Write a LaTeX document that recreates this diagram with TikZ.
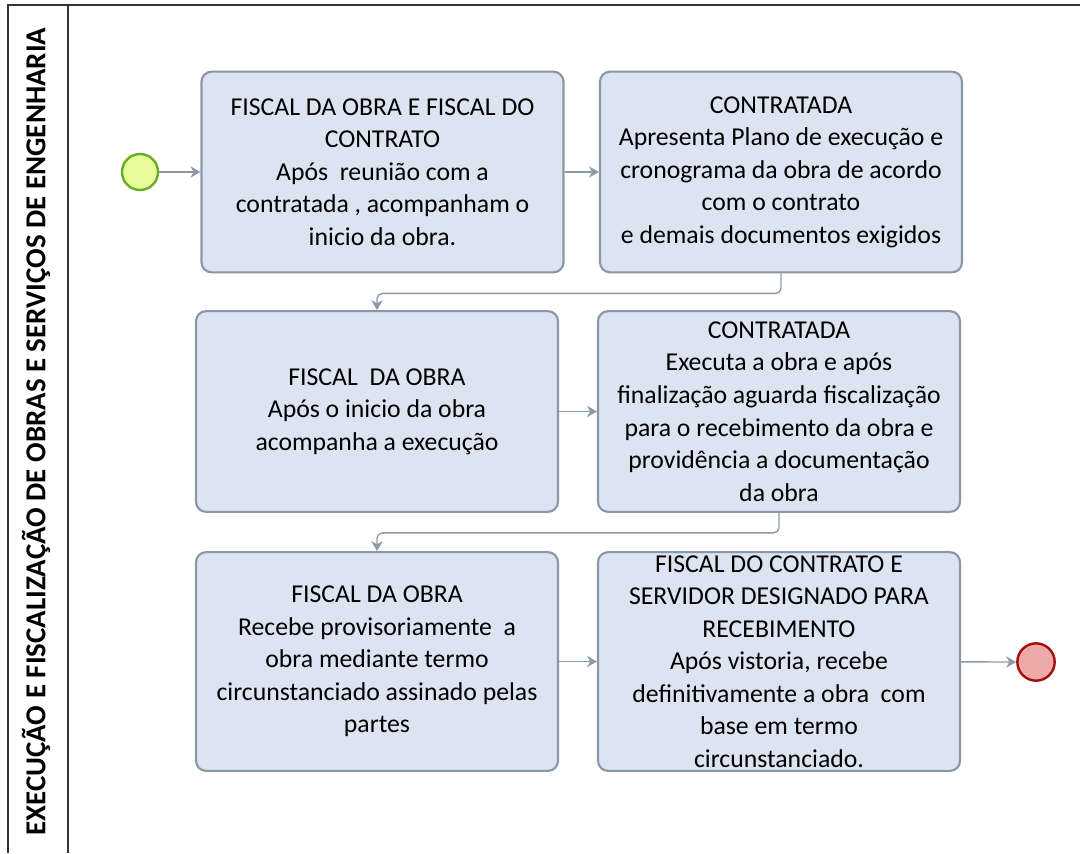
\documentclass[tikz,border=0pt]{standalone}
\usepackage{fontspec}
\setmainfont{Carlito}
\usepackage{xcolor}
\usepackage{tikz}
\usetikzlibrary{arrows.meta, positioning, shapes}

\definecolor{boxfill}{HTML}{DBE4F0}
\definecolor{boxline}{HTML}{8B96A6}
\definecolor{arrowgray}{HTML}{8D99A8}
\definecolor{startfill}{HTML}{E8FC9C}
\definecolor{startline}{HTML}{6AAE1E}
\definecolor{endfill}{HTML}{EEA9A9}
\definecolor{endline}{HTML}{A50C0C}

\begin{document}
\begin{tikzpicture}[
x=0.75pt, y=-0.75pt,
box/.style={
rectangle,
rounded corners=7.5pt,
draw=boxline,
fill=boxfill,
line width=1.6pt,
minimum width=271.5pt,
minimum height=150.5pt,
inner sep=0pt,
align=center,
font=\fontsize{19.3}{24.4}\selectfont
},
tallbox/.style={
box,
minimum height=164pt
},
startev/.style={
circle,
draw=startline,
fill=startfill,
line width=1.8pt,
minimum size=27pt,
inner sep=0pt
},
endev/.style={
circle,
draw=endline,
fill=endfill,
line width=1.8pt,
minimum size=28pt,
inner sep=0pt
},
arrow/.style={
-{Stealth[length=7.5pt, width=8.5pt]},
draw=arrowgray,
line width=1pt
},
elbow/.style={
arrow,
rounded corners=4pt
}
]

\useasboundingbox (0,0) rectangle (1080,853);

% lane
\draw[line width=1pt, black!80] (8,853) -- (8,5) -- (1080,5);
\draw[line width=1pt, black!80] (68,5) -- (68,853);
\node[rotate=90, font=\fontsize{21.7}{26}\selectfont\bfseries] (lane) at (36,431.5)
{EXECUÇÃO E FISCALIZAÇÃO DE OBRAS E SERVIÇOS DE ENGENHARIA};

% events
\node[startev] (start) at (140,172) {};
\node[endev] (end) at (1036,662) {};

% tasks
\node[box] (a) at (382.5,172)
{FISCAL DA OBRA E FISCAL DO\\
CONTRATO\\
Após\ \ reunião com a\\
contratada , acompanham o\\
inicio da obra.};

\node[box] (b) at (781,172)
{CONTRATADA\\
Apresenta Plano de execução e\\
cronograma da obra de acordo\\
com o contrato\\
e demais documentos exigidos};

\node[box] (c) at (377,411.5)
{FISCAL\ \ DA OBRA\\
Após o inicio da obra\\
acompanha a execução};

\node[box] (d) at (779,411.5)
{CONTRATADA\\
Executa a obra e após\\
finalização aguarda fiscalização\\
para o recebimento da obra e\\
providência a documentação\\
da obra};

\node[tallbox] (e) at (377,661.5)
{FISCAL DA OBRA\\
Recebe provisoriamente\ \ a\\
obra mediante termo\\
circunstanciado assinado pelas\\
partes};

\node[tallbox] (f) at (779,661.5)
{FISCAL DO CONTRATO E\\
SERVIDOR DESIGNADO PARA\\
RECEBIMENTO\\
Após vistoria, recebe\\
definitivamente a obra\ \ com\\
base em termo\\
circunstanciado.};

\draw[arrow] (start) -- (a);
\draw[arrow] (a) -- (b);
\draw[elbow] (b.south) -- ++(0,20) -| (c.north);
\draw[arrow] (c) -- (d);
\draw[elbow] (d.south) -- ++(0,20) -| (e.north);
\draw[arrow] (e) -- (f);
\draw[arrow] (f) -- (end);

\end{tikzpicture}
\end{document}
